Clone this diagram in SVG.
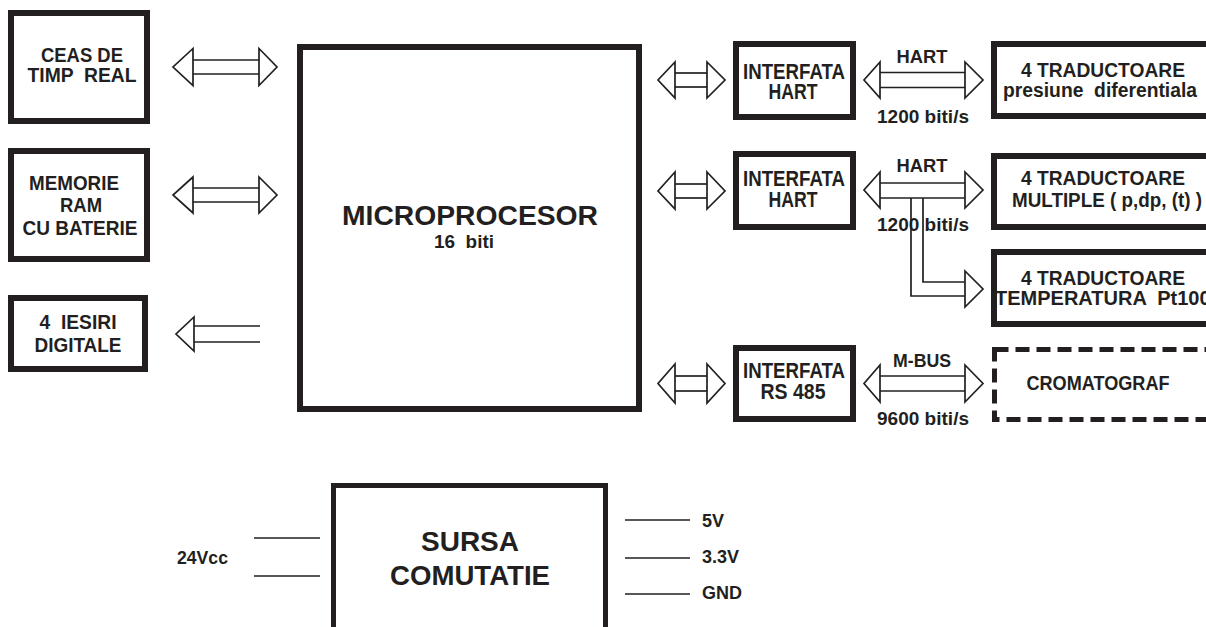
<svg xmlns="http://www.w3.org/2000/svg" width="1206" height="627" viewBox="0 0 1206 627" xml:space="preserve">
<style>
text { font-family: "Liberation Sans", Arial, sans-serif; font-weight: bold; fill: #231f20; white-space: pre; }
.box { fill: #fff; stroke: #231f20; stroke-width: 6; }
.box5 { fill: #fff; stroke: #231f20; stroke-width: 5; }
.dash { fill: #fff; stroke: #231f20; stroke-width: 5; stroke-dasharray: 14 7; }
.ln { stroke: #231f20; stroke-width: 1.7; fill: none; }
.hd { stroke: #231f20; stroke-width: 1.7; fill: #fff; stroke-linejoin: miter; }
.c { text-anchor: middle; }
.f21 { font-size: 21px; }
.f20 { font-size: 20px; }
.f18 { font-size: 18px; }
.f22 { font-size: 22px; }
</style>
<rect width="1206" height="627" fill="#fff"/>

<g id="ceas">
<rect class="box" x="11" y="13" width="136" height="108"/>
<text class="f21 c" x="82" y="62" textLength="82" lengthAdjust="spacingAndGlyphs">CEAS DE</text>
<text class="f21 c" x="82" y="82" textLength="109" lengthAdjust="spacingAndGlyphs">TIMP  REAL</text>
</g>
<g id="memorie">
<rect class="box" x="11" y="151" width="136" height="108"/>
<text class="f21 c" x="74" y="190" textLength="90" lengthAdjust="spacingAndGlyphs">MEMORIE</text>
<text class="f21 c" x="81" y="212" textLength="42" lengthAdjust="spacingAndGlyphs">RAM</text>
<text class="f21 c" x="80" y="235" textLength="115" lengthAdjust="spacingAndGlyphs">CU BATERIE</text>
</g>
<g id="iesiri">
<rect class="box" x="11" y="298" width="134" height="71"/>
<text class="f21 c" x="78" y="329" textLength="77" lengthAdjust="spacingAndGlyphs">4  IESIRI</text>
<text class="f21 c" x="78" y="352" textLength="87" lengthAdjust="spacingAndGlyphs">DIGITALE</text>
</g>
<g id="microprocesor">
<rect class="box" x="300" y="47" width="339" height="362"/>
<text class="c" x="470" y="225" font-size="27" textLength="256" lengthAdjust="spacingAndGlyphs">MICROPROCESOR</text>
<text class="f18 c" x="464" y="248" textLength="60" lengthAdjust="spacingAndGlyphs">16  biti</text>
</g>
<g id="interfata1">
<rect class="box" x="736" y="44" width="117" height="73"/>
<text class="f22 c" x="794" y="79" textLength="102" lengthAdjust="spacingAndGlyphs">INTERFATA</text>
<text class="f22 c" x="793" y="99" textLength="49" lengthAdjust="spacingAndGlyphs">HART</text>
</g>
<g id="interfata2">
<rect class="box" x="736" y="154" width="117" height="73"/>
<text class="f22 c" x="794" y="186" textLength="102" lengthAdjust="spacingAndGlyphs">INTERFATA</text>
<text class="f22 c" x="793" y="207" textLength="49" lengthAdjust="spacingAndGlyphs">HART</text>
</g>
<g id="interfata3">
<rect class="box" x="736" y="348" width="117" height="71"/>
<text class="f22 c" x="794" y="378" textLength="102" lengthAdjust="spacingAndGlyphs">INTERFATA</text>
<text class="f22 c" x="793" y="399" textLength="65" lengthAdjust="spacingAndGlyphs">RS 485</text>
</g>
<g id="traductoare1">
<rect class="box" x="994" y="44" width="230" height="72"/>
<text class="f20 c" x="1103" y="77" textLength="164" lengthAdjust="spacingAndGlyphs">4 TRADUCTOARE</text>
<text class="f20 c" x="1100" y="97" textLength="194" lengthAdjust="spacingAndGlyphs">presiune  diferentiala</text>
</g>
<g id="traductoare2">
<rect class="box" x="994" y="156" width="230" height="71"/>
<text class="f20 c" x="1103" y="185" textLength="164" lengthAdjust="spacingAndGlyphs">4 TRADUCTOARE</text>
<text class="f20 c" x="1107" y="207" textLength="190" lengthAdjust="spacingAndGlyphs">MULTIPLE ( p,dp, (t) )</text>
</g>
<g id="traductoare3">
<rect class="box" x="994" y="252" width="230" height="72"/>
<text class="f20 c" x="1103" y="285" textLength="164" lengthAdjust="spacingAndGlyphs">4 TRADUCTOARE</text>
<text class="f20" x="995" y="305">TEMPERATURA  Pt100</text>
</g>
<g id="cromatograf">
<rect class="dash" x="994.5" y="349.5" width="230" height="70"/>
<text class="f20 c" x="1098" y="390" textLength="143" lengthAdjust="spacingAndGlyphs">CROMATOGRAF</text>
</g>
<g id="sursa">
<rect class="box5" x="333.5" y="485.5" width="272" height="200"/>
<text class="c" x="470" y="551" font-size="28" textLength="98" lengthAdjust="spacingAndGlyphs">SURSA</text>
<text class="c" x="470" y="585" font-size="27" textLength="160" lengthAdjust="spacingAndGlyphs">COMUTATIE</text>
</g>

<g id="connectors">
<line class="ln" x1="193" y1="60" x2="259" y2="60"/>
<line class="ln" x1="193" y1="74" x2="259" y2="74"/>
<polygon class="hd" points="193,48.5 173,67 193,85.5"/>
<polygon class="hd" points="259,48.5 277,67 259,85.5"/>

<line class="ln" x1="193" y1="188" x2="259" y2="188"/>
<line class="ln" x1="193" y1="202" x2="259" y2="202"/>
<polygon class="hd" points="193,177 173,195 193,213"/>
<polygon class="hd" points="259,177 277,195 259,213"/>

<line class="ln" x1="194" y1="326" x2="260" y2="326"/>
<line class="ln" x1="194" y1="342" x2="260" y2="342"/>
<polygon class="hd" points="194,317 176,334 194,351"/>

<line class="ln" x1="675" y1="73" x2="707" y2="73"/>
<line class="ln" x1="675" y1="87" x2="707" y2="87"/>
<polygon class="hd" points="675,62 658,80 675,98"/>
<polygon class="hd" points="707,62 725,80 707,98"/>

<line class="ln" x1="675" y1="184" x2="707" y2="184"/>
<line class="ln" x1="675" y1="198" x2="707" y2="198"/>
<polygon class="hd" points="675,172 658,191 675,209"/>
<polygon class="hd" points="707,172 725,191 707,209"/>

<line class="ln" x1="675" y1="376" x2="707" y2="376"/>
<line class="ln" x1="675" y1="391" x2="707" y2="391"/>
<polygon class="hd" points="675,364 658,383.5 675,403"/>
<polygon class="hd" points="707,364 725,383.5 707,403"/>

<line class="ln" x1="880" y1="72.5" x2="965" y2="72.5"/>
<line class="ln" x1="880" y1="87.5" x2="965" y2="87.5"/>
<polygon class="hd" points="880,62 864,80 880,98"/>
<polygon class="hd" points="965,62 983,80 965,98"/>

<polyline class="ln" points="911,198 911,296 965,296"/>
<polyline class="ln" points="923,198 923,282 965,282"/>
<line class="ln" x1="880" y1="183" x2="965" y2="183"/>
<line class="ln" x1="880" y1="198" x2="965" y2="198"/>
<polygon class="hd" points="880,172 864,190 880,208"/>
<polygon class="hd" points="965,172 983,190 965,208"/>
<polygon class="hd" points="965,271 983,289 965,307"/>

<line class="ln" x1="880" y1="376" x2="965" y2="376"/>
<line class="ln" x1="880" y1="391" x2="965" y2="391"/>
<polygon class="hd" points="880,365 864,383.5 880,402"/>
<polygon class="hd" points="965,365 983,383.5 965,402"/>

<line class="ln" x1="254" y1="538" x2="320" y2="538"/>
<line class="ln" x1="254" y1="576" x2="320" y2="576"/>
<line class="ln" x1="625" y1="520" x2="690" y2="520"/>
<line class="ln" x1="625" y1="558" x2="690" y2="558"/>
<line class="ln" x1="625" y1="594" x2="690" y2="594"/>
</g>

<g id="labels">
<text class="f18 c" x="922" y="63" textLength="51" lengthAdjust="spacingAndGlyphs">HART</text>
<text class="f18 c" x="923" y="123" textLength="92" lengthAdjust="spacingAndGlyphs">1200 biti/s</text>
<text class="f18 c" x="922" y="172" textLength="51" lengthAdjust="spacingAndGlyphs">HART</text>
<text class="f18 c" x="923" y="231" textLength="92" lengthAdjust="spacingAndGlyphs">1200 biti/s</text>
<text class="f18 c" x="922" y="367" textLength="58" lengthAdjust="spacingAndGlyphs">M-BUS</text>
<text class="f18 c" x="923" y="425" textLength="92" lengthAdjust="spacingAndGlyphs">9600 biti/s</text>
<text class="f18" x="177" y="564" textLength="51" lengthAdjust="spacingAndGlyphs">24Vcc</text>
<text class="f18" x="702" y="527">5V</text>
<text class="f18" x="702" y="563">3.3V</text>
<text class="f18" x="702" y="599">GND</text>
</g>
</svg>
